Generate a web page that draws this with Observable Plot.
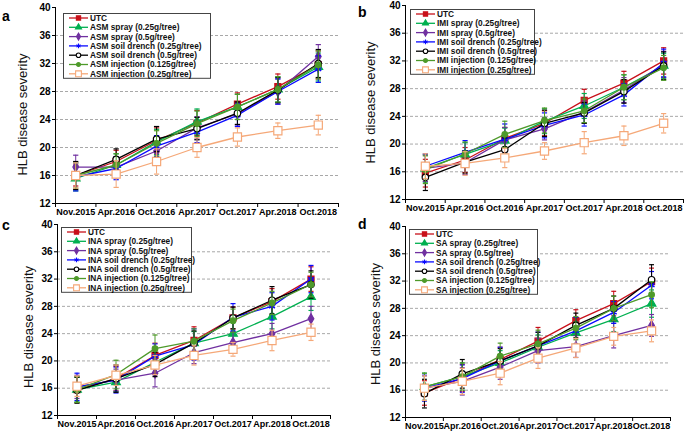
<!DOCTYPE html>
<html><head><meta charset="utf-8">
<script src="https://cdn.jsdelivr.net/npm/d3@7"></script>
<script src="https://cdn.jsdelivr.net/npm/@observablehq/plot@0.6"></script>
<style>
html,body{margin:0;padding:0;background:#fff;overflow:hidden;}
#root{position:relative;width:685px;height:433px;font-family:"Liberation Sans",Arial,sans-serif;}
.panel{position:absolute;}
#overlay{position:absolute;left:0;top:0;}
</style></head>
<body><div id="root"></div>
<script>
// ---- data ----
const dates = ["Nov.2015","Apr.2016","Oct.2016","Apr.2017","Oct.2017","Apr.2018","Oct.2018"];
const treatments = ["UTC","spray (0.25g/tree)","spray (0.5g/tree)","soil drench (0.25g/tree)","soil drench (0.5g/tree)","injection (0.125g/tree)","injection (0.25g/tree)"];
const chemicals = ["ASM","IMI","INA","SA"];
const panelLetters = ["a","b","c","d"];
const yTicks = [12,16,20,24,28,32,36,40];
const gridTicks = [16,20,24,28,32,36];
const yLabel = "HLB disease severity";

// series order: UTC, spray 0.25, spray 0.5, drench 0.25, drench 0.5, injection 0.125, injection 0.25
const asmMeans = [
  [16.0,18.0,21.0,23.5,26.2,28.7,31.8],
  [15.6,17.5,20.8,23.7,25.8,28.3,31.5],
  [17.2,17.2,19.5,22.8,24.8,28.0,33.0],
  [15.8,17.0,20.2,22.2,24.6,28.0,31.2],
  [16.0,18.3,21.2,22.7,24.9,28.2,32.0],
  [16.0,17.5,20.6,23.4,25.8,28.3,31.8],
  [16.0,16.2,18.0,20.0,21.5,22.4,23.2]
];
const asmErrors = [
  [1.5,1.6,1.8,1.8,1.6,1.8,2.0],
  [1.8,1.6,1.8,1.8,1.8,1.8,2.0],
  [1.7,1.5,1.7,1.6,1.6,1.8,1.7],
  [2.0,1.6,1.5,1.5,1.6,1.8,1.9],
  [2.0,1.5,1.8,1.6,1.6,1.8,2.0],
  [1.8,1.6,1.8,1.8,1.8,1.8,2.0],
  [1.8,1.9,1.8,1.4,1.3,1.1,1.4]
];
const imiMeans = [
  [15.8,17.7,20.8,23.0,26.3,28.8,32.0],
  [16.5,18.5,20.5,23.3,25.5,28.2,31.3],
  [16.5,17.3,20.6,22.2,24.6,27.8,31.5],
  [16.8,18.8,20.7,22.7,24.2,27.1,31.7],
  [15.2,17.4,19.2,23.0,24.5,27.6,31.3],
  [16.3,18.6,21.4,23.4,24.8,28.2,31.0],
  [16.8,17.2,18.0,19.0,20.2,21.2,23.0]
];
const imiErrors = [
  [2.0,1.8,1.6,1.8,1.6,1.7,1.9],
  [2.0,1.7,1.8,1.8,1.8,1.8,1.8],
  [1.9,1.7,1.8,1.6,1.6,1.8,1.9],
  [1.8,1.7,2.2,1.8,1.6,1.6,2.0],
  [1.9,1.6,1.7,1.9,1.5,1.7,2.0],
  [2.0,1.7,1.9,1.8,1.7,1.8,1.8],
  [1.8,1.7,1.4,1.2,1.6,1.4,1.4]
];
const inaMeans = [
  [15.8,17.4,20.8,23.0,26.3,28.7,32.0],
  [15.8,16.9,19.8,22.6,24.0,26.5,29.4],
  [16.2,17.2,18.2,21.2,22.7,24.0,26.2],
  [16.2,17.2,20.7,22.4,26.4,28.0,32.0],
  [15.7,17.4,19.5,22.6,26.3,28.9,31.2],
  [15.8,18.0,21.8,22.9,25.9,28.5,31.2],
  [16.3,17.9,19.4,20.8,21.7,23.0,24.2]
];
const inaErrors = [
  [1.9,1.8,1.8,2.0,1.6,1.9,1.8],
  [1.8,1.4,1.8,1.7,1.6,1.8,2.0],
  [1.7,1.6,2.0,1.6,1.6,1.5,1.8],
  [2.0,1.9,1.8,2.3,2.0,2.0,2.0],
  [1.9,2.0,1.8,1.8,1.6,2.0,2.0],
  [1.9,2.1,2.0,1.8,1.7,1.7,1.8],
  [1.5,1.5,1.4,1.4,1.0,1.5,1.2]
];
const saMeans = [
  [15.6,17.8,20.5,23.2,26.2,28.7,31.9],
  [16.5,18.0,20.0,22.3,24.4,26.4,28.7],
  [16.3,17.3,19.4,21.8,22.4,24.0,25.5],
  [16.3,17.7,20.3,22.5,24.7,27.4,31.4],
  [15.5,18.4,20.3,22.5,25.5,28.0,32.2],
  [16.5,18.0,21.0,22.8,25.1,28.0,30.0],
  [16.3,17.3,18.5,20.7,22.2,23.9,24.7]
];
const saErrors = [
  [1.8,2.0,1.8,2.0,1.6,1.8,2.0],
  [2.0,2.0,1.8,1.8,1.6,1.8,2.0],
  [1.8,2.0,1.8,1.8,1.6,1.8,1.6],
  [1.9,2.0,2.0,2.0,2.0,1.6,2.0],
  [2.1,2.1,1.8,2.0,1.8,1.8,2.2],
  [2.0,2.0,1.9,2.0,1.7,1.8,1.9],
  [1.8,1.9,1.7,1.5,1.4,1.3,1.6]
];
const allMeans = [asmMeans, imiMeans, inaMeans, saMeans];
const allErrors = [asmErrors, imiErrors, inaErrors, saErrors];

// ---- styles ----
const colors = ["#c8101a","#00b050","#7030a0","#0a0aff","#000000","#4e9a2a","#f5a878"];
const symbols = ["square","triangle","diamond","asterisk","circle","circle","square"];
const d3symbols = [d3.symbolSquare,d3.symbolTriangle,d3.symbolDiamond,d3.symbolAsterisk,d3.symbolCircle,d3.symbolCircle,d3.symbolSquare];
const fills = ["#c8101a","#00b050","#7030a0","none","#ffffff","#4e9a2a","#ffffff"];
const radii = [3.4,3.2,3.0,3.2,3.2,2.8,4.6];

// panel frames: axis x, top y, right x, bottom y
const frames = [
  {ax:55, top:7, right:338, bottom:203, labelDx:-33, labelDy:9},
  {ax:405, top:5, right:683, bottom:199, labelDx:-35, labelDy:0},
  {ax:57, top:224, right:330, bottom:415, labelDx:-29, labelDy:7},
  {ax:405, top:226, right:670, bottom:417, labelDx:-30, labelDy:2}
];
const legends = [
  {x:63, y:13, w:147},
  {x:410, y:9, w:124},
  {x:61, y:227, w:130},
  {x:409, y:229, w:128}
];
const letterPos = [[2,21],[358,17],[2,230],[358,229]];

const root = document.getElementById("root");
const ML = 55, MT = 8, MR = 2, MB = 18;

frames.forEach((f, k) => {
  const means = allMeans[k], errs = allErrors[k];
  const marks = [
    Plot.ruleY(gridTicks, {stroke:"#a8a8a8", strokeDasharray:"3,2", strokeWidth:1}),
    Plot.ruleY([12], {stroke:"#000", strokeWidth:1}),
    Plot.ruleX([-0.5], {stroke:"#000", strokeWidth:1}),
    Plot.axisY({ticks:yTicks, tickSize:3, tickPadding:2, fontSize:10, fontWeight:"bold", tickFormat:d=>String(d), label:null}),
    Plot.axisX([-0.5,0.5,1.5,2.5,3.5,4.5,5.5,6.5], {tickSize:4, tickFormat:()=>"", label:null}),
    Plot.axisX(d3.range(7), {tickSize:0, tickPadding:5, fontSize:9, fontWeight:"bold", tickFormat:i=>dates[i], label:null}),
    Plot.text([yLabel], {frameAnchor:"left", textAnchor:"middle", rotate:-90, dx:f.labelDx, dy:f.labelDy, fontSize:13, fill:"#111"})
  ];
  for (let s = 0; s < means.length; s++) {
    const rows = means[s].map((v, i) => ({i, y:v, e:errs[s][i]}));
    const c = colors[s];
    marks.push(
      Plot.ruleX(rows, {x:"i", y1:d=>d.y-d.e, y2:d=>d.y+d.e, stroke:c, strokeWidth:1}),
      Plot.link(rows, {x1:d=>d.i-0.065, x2:d=>d.i+0.065, y1:d=>d.y+d.e, y2:d=>d.y+d.e, stroke:c, strokeWidth:1.2}),
      Plot.link(rows, {x1:d=>d.i-0.065, x2:d=>d.i+0.065, y1:d=>d.y-d.e, y2:d=>d.y-d.e, stroke:c, strokeWidth:1.2}),
      Plot.line(rows, {x:"i", y:"y", stroke:c, strokeWidth:1.3}),
      Plot.dot(rows, {x:"i", y:"y", symbol:symbols[s], r:radii[s], fill:fills[s], stroke:c, strokeWidth: s===3 ? 1.6 : 1.2})
    );
  }
  const chart = Plot.plot({
    width: f.right - f.ax + ML + MR,
    height: f.bottom - f.top + MT + MB,
    marginLeft: ML, marginTop: MT, marginRight: MR, marginBottom: MB,
    x: {type:"linear", domain:[-0.5,6.5]},
    y: {domain:[12,40]},
    style: {fontFamily:"'Liberation Sans', Arial, sans-serif", color:"#000", background:"transparent", overflow:"visible"},
    marks
  });
  const div = document.createElement("div");
  div.className = "panel";
  div.style.left = (f.ax - ML) + "px";
  div.style.top = (f.top - MT) + "px";
  div.appendChild(chart);
  root.appendChild(div);
});

// overlay: panel letters and legends
const svg = d3.select(root).append("svg").attr("id","overlay").attr("width",685).attr("height",433)
  .style("font-family","'Liberation Sans', Arial, sans-serif");
panelLetters.forEach((l, k) => {
  svg.append("text").attr("x", letterPos[k][0]).attr("y", letterPos[k][1])
    .attr("font-size", 14).attr("font-weight","bold").text(l);
});
const rowGap = 9.3, firstRow = 4.5;
legends.forEach((L, k) => {
  const g = svg.append("g").attr("transform", `translate(${L.x},${L.y})`);
  const h = firstRow*2 + rowGap*6;
  g.append("rect").attr("x",0.5).attr("y",0.5).attr("width",L.w).attr("height",h)
    .attr("fill","#fff").attr("stroke","#444").attr("stroke-width",1);
  treatments.forEach((t, s) => {
    const y = firstRow + s*rowGap + 0.5;
    g.append("line").attr("x1",6).attr("x2",25).attr("y1",y).attr("y2",y)
      .attr("stroke",colors[s]).attr("stroke-width",1.3);
    g.append("path").attr("d", d3.symbol(d3symbols[s], Math.PI*radii[s]*radii[s]*0.5)())
      .attr("transform",`translate(15.5,${y})`)
      .attr("fill",fills[s]).attr("stroke",colors[s]).attr("stroke-width",1.1);
    g.append("text").attr("x",27).attr("y",y).attr("dy","0.35em")
      .attr("font-size",8.3).attr("font-weight","bold").attr("fill","#111")
      .text(s === 0 ? t : chemicals[k] + " " + t);
  });
});
</script>
</body></html>
